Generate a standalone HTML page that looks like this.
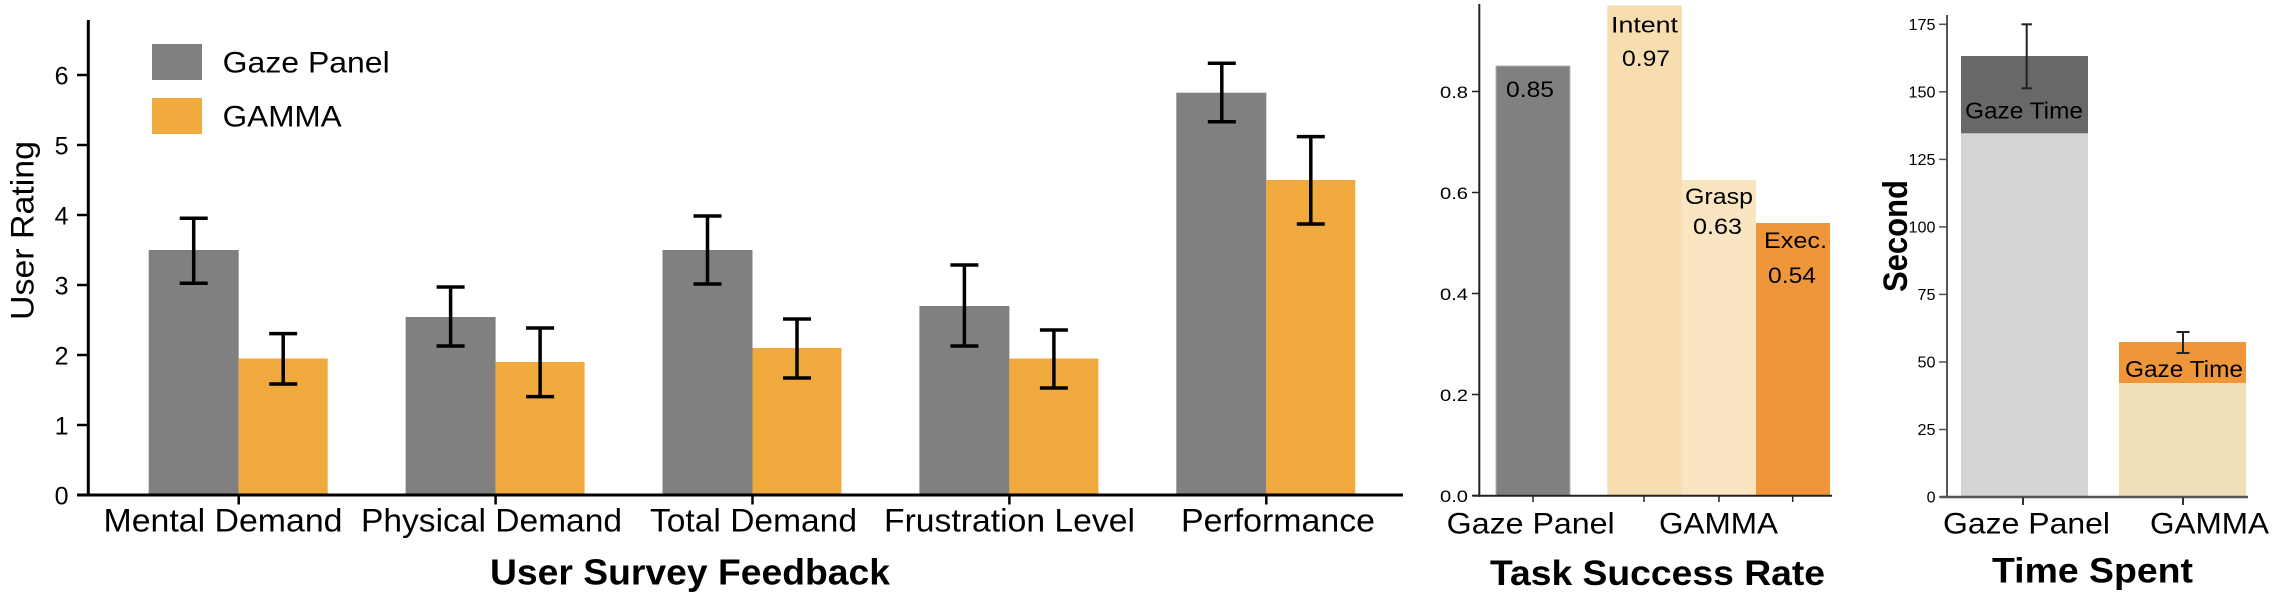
<!DOCTYPE html>
<html>
<head>
<meta charset="utf-8">
<style>
  html, body { margin: 0; padding: 0; background: #ffffff; }
  body { width: 2276px; height: 592px; overflow: hidden; }
  svg { display: block; }
  text { font-family: "Liberation Sans", "DejaVu Sans", sans-serif; fill: #000; }
</style>
</head>
<body>
<svg width="2276" height="592" viewBox="0 0 2276 592" xmlns="http://www.w3.org/2000/svg">
  <rect x="0" y="0" width="2276" height="592" fill="#ffffff"/>

  <!-- ================= PANEL 1 : User Survey Feedback ================= -->
  <!-- bars -->
  <!-- Mental Demand tick 238.7 -->
  <rect x="148.7" y="250" width="90" height="245" fill="#808080"/>
  <rect x="238.7" y="358.5" width="89" height="136.5" fill="#F0A93C"/>
  <!-- Physical Demand tick 495.6 -->
  <rect x="405.6" y="317" width="90" height="178" fill="#808080"/>
  <rect x="495.6" y="362" width="89" height="133" fill="#F0A93C"/>
  <!-- Total Demand tick 752.5 -->
  <rect x="662.5" y="250" width="90" height="245" fill="#808080"/>
  <rect x="752.5" y="348" width="89" height="147" fill="#F0A93C"/>
  <!-- Frustration Level tick 1009.4 -->
  <rect x="919.4" y="306" width="90" height="189" fill="#808080"/>
  <rect x="1009.4" y="358.5" width="89" height="136.5" fill="#F0A93C"/>
  <!-- Performance tick 1266.3 -->
  <rect x="1176.3" y="92.7" width="90" height="402.3" fill="#808080"/>
  <rect x="1266.3" y="180" width="89" height="315" fill="#F0A93C"/>

  <!-- error bars -->
  <g stroke="#000" stroke-width="3.5" fill="none">
    <!-- Mental -->
    <line x1="193.7" y1="218.3" x2="193.7" y2="283.3"/>
    <line x1="179.7" y1="218.3" x2="207.7" y2="218.3"/>
    <line x1="179.7" y1="283.3" x2="207.7" y2="283.3"/>
    <line x1="283.2" y1="333.6" x2="283.2" y2="384"/>
    <line x1="269.2" y1="333.6" x2="297.2" y2="333.6"/>
    <line x1="269.2" y1="384" x2="297.2" y2="384"/>
    <!-- Physical -->
    <line x1="450.6" y1="287" x2="450.6" y2="346"/>
    <line x1="436.6" y1="287" x2="464.6" y2="287"/>
    <line x1="436.6" y1="346" x2="464.6" y2="346"/>
    <line x1="540.1" y1="328" x2="540.1" y2="396.6"/>
    <line x1="526.1" y1="328" x2="554.1" y2="328"/>
    <line x1="526.1" y1="396.6" x2="554.1" y2="396.6"/>
    <!-- Total -->
    <line x1="707.5" y1="216" x2="707.5" y2="284"/>
    <line x1="693.5" y1="216" x2="721.5" y2="216"/>
    <line x1="693.5" y1="284" x2="721.5" y2="284"/>
    <line x1="797" y1="319" x2="797" y2="378"/>
    <line x1="783" y1="319" x2="811" y2="319"/>
    <line x1="783" y1="378" x2="811" y2="378"/>
    <!-- Frustration -->
    <line x1="964.4" y1="265" x2="964.4" y2="346"/>
    <line x1="950.4" y1="265" x2="978.4" y2="265"/>
    <line x1="950.4" y1="346" x2="978.4" y2="346"/>
    <line x1="1053.9" y1="330" x2="1053.9" y2="388"/>
    <line x1="1039.9" y1="330" x2="1067.9" y2="330"/>
    <line x1="1039.9" y1="388" x2="1067.9" y2="388"/>
    <!-- Performance -->
    <line x1="1221.8" y1="63.3" x2="1221.8" y2="121.7"/>
    <line x1="1207.8" y1="63.3" x2="1235.8" y2="63.3"/>
    <line x1="1207.8" y1="121.7" x2="1235.8" y2="121.7"/>
    <line x1="1310.8" y1="136.6" x2="1310.8" y2="224"/>
    <line x1="1296.8" y1="136.6" x2="1324.8" y2="136.6"/>
    <line x1="1296.8" y1="224" x2="1324.8" y2="224"/>
  </g>

  <!-- axes -->
  <g stroke="#000" fill="none">
    <line x1="88.3" y1="20" x2="88.3" y2="496.5" stroke-width="3"/>
    <line x1="77" y1="495" x2="1403" y2="495" stroke-width="3"/>
    <g stroke-width="2.5">
      <line x1="77" y1="495" x2="88" y2="495"/>
      <line x1="77" y1="425" x2="88" y2="425"/>
      <line x1="77" y1="355" x2="88" y2="355"/>
      <line x1="77" y1="285" x2="88" y2="285"/>
      <line x1="77" y1="215" x2="88" y2="215"/>
      <line x1="77" y1="145" x2="88" y2="145"/>
      <line x1="77" y1="75" x2="88" y2="75"/>
      <line x1="238.7" y1="495" x2="238.7" y2="504.5"/>
      <line x1="495.6" y1="495" x2="495.6" y2="504.5"/>
      <line x1="752.5" y1="495" x2="752.5" y2="504.5"/>
      <line x1="1009.4" y1="495" x2="1009.4" y2="504.5"/>
      <line x1="1266.3" y1="495" x2="1266.3" y2="504.5"/>
    </g>
  </g>

  <!-- y tick labels -->
  <g font-size="25" text-anchor="end">
    <text x="68.5" y="504.5">0</text>
    <text x="68.5" y="434.5">1</text>
    <text x="68.5" y="364.5">2</text>
    <text x="68.5" y="294.5">3</text>
    <text x="68.5" y="224.5">4</text>
    <text x="68.5" y="154.5">5</text>
    <text x="68.5" y="84.5">6</text>
  </g>

  <!-- y label -->
  <text font-size="32" text-anchor="middle" transform="translate(33.5,230.5) rotate(-90)" textLength="179" lengthAdjust="spacingAndGlyphs">User Rating</text>

  <!-- x tick labels -->
  <g font-size="32">
    <text x="103.5" y="531.5" textLength="239" lengthAdjust="spacingAndGlyphs">Mental Demand</text>
    <text x="361" y="531.5" textLength="261" lengthAdjust="spacingAndGlyphs">Physical Demand</text>
    <text x="650" y="531.5" textLength="207" lengthAdjust="spacingAndGlyphs">Total Demand</text>
    <text x="884" y="531.5" textLength="251" lengthAdjust="spacingAndGlyphs">Frustration Level</text>
    <text x="1181" y="531.5" textLength="194" lengthAdjust="spacingAndGlyphs">Performance</text>
  </g>
  <text x="490" y="584.5" font-size="36" font-weight="bold" textLength="400" lengthAdjust="spacingAndGlyphs">User Survey Feedback</text>

  <!-- legend -->
  <rect x="152" y="44" width="50" height="36" fill="#808080"/>
  <rect x="152" y="98" width="50" height="36" fill="#F0A93C"/>
  <text x="222.7" y="72.7" font-size="30" textLength="167" lengthAdjust="spacingAndGlyphs">Gaze Panel</text>
  <text x="222.7" y="126.7" font-size="30" textLength="119" lengthAdjust="spacingAndGlyphs">GAMMA</text>

  <!-- ================= PANEL 2 : Task Success Rate ================= -->
  <rect x="1496" y="66" width="74" height="429.5" fill="#808080" stroke="#b4b4b4" stroke-width="1"/>
  <rect x="1607.3" y="5.5" width="74.7" height="490" fill="#F8DDB0"/>
  <rect x="1682" y="180" width="74" height="315.5" fill="#FAE5C3"/>
  <rect x="1756" y="223" width="74" height="272.5" fill="#F0963A"/>

  <g stroke="#222" fill="none">
    <line x1="1479.3" y1="4" x2="1479.3" y2="496.7" stroke-width="2"/>
    <line x1="1472.5" y1="495.7" x2="1832" y2="495.7" stroke-width="2"/>
    <g stroke-width="1.5">
      <line x1="1472" y1="495.5" x2="1479" y2="495.5"/>
      <line x1="1472" y1="394.5" x2="1479" y2="394.5"/>
      <line x1="1472" y1="293.5" x2="1479" y2="293.5"/>
      <line x1="1472" y1="192.5" x2="1479" y2="192.5"/>
      <line x1="1472" y1="91.5" x2="1479" y2="91.5"/>
      <line x1="1533" y1="496" x2="1533" y2="502"/>
      <line x1="1644" y1="496" x2="1644" y2="502"/>
      <line x1="1719" y1="496" x2="1719" y2="502"/>
      <line x1="1792.7" y1="496" x2="1792.7" y2="502"/>
    </g>
  </g>

  <g font-size="17" fill="#333" text-anchor="end">
    <text x="1468" y="501.8" textLength="28" lengthAdjust="spacingAndGlyphs" fill="#333">0.0</text>
    <text x="1468" y="400.8" textLength="28" lengthAdjust="spacingAndGlyphs" fill="#333">0.2</text>
    <text x="1468" y="299.8" textLength="28" lengthAdjust="spacingAndGlyphs" fill="#333">0.4</text>
    <text x="1468" y="198.8" textLength="28" lengthAdjust="spacingAndGlyphs" fill="#333">0.6</text>
    <text x="1468" y="97.8" textLength="28" lengthAdjust="spacingAndGlyphs" fill="#333">0.8</text>
  </g>

  <g font-size="22">
    <text x="1506" y="97" textLength="48" lengthAdjust="spacingAndGlyphs">0.85</text>
    <text x="1611" y="32.3" textLength="67" lengthAdjust="spacingAndGlyphs">Intent</text>
    <text x="1622" y="66" textLength="48" lengthAdjust="spacingAndGlyphs">0.97</text>
    <text x="1685" y="204" textLength="68" lengthAdjust="spacingAndGlyphs">Grasp</text>
    <text x="1693" y="234" textLength="49" lengthAdjust="spacingAndGlyphs">0.63</text>
    <text x="1764" y="248" textLength="63" lengthAdjust="spacingAndGlyphs">Exec.</text>
    <text x="1768" y="283" textLength="48" lengthAdjust="spacingAndGlyphs">0.54</text>
  </g>

  <text x="1446.7" y="533.5" font-size="30" textLength="168" lengthAdjust="spacingAndGlyphs">Gaze Panel</text>
  <text x="1659" y="533.5" font-size="30" textLength="119" lengthAdjust="spacingAndGlyphs">GAMMA</text>
  <text x="1490" y="585" font-size="35" font-weight="bold" textLength="335" lengthAdjust="spacingAndGlyphs">Task Success Rate</text>

  <!-- ================= PANEL 3 : Time Spent ================= -->
  <rect x="1961" y="133.3" width="127" height="363.7" fill="#D4D4D4"/>
  <rect x="1961" y="56" width="127" height="77.3" fill="#686868"/>
  <rect x="2119" y="383" width="127" height="114" fill="#F1DFB9"/>
  <rect x="2119" y="342" width="127" height="41" fill="#F0963A"/>

  <g stroke="#222" stroke-width="2" fill="none">
    <line x1="2026.7" y1="24.3" x2="2026.7" y2="88.3"/>
    <line x1="2021.5" y1="24.3" x2="2031.9" y2="24.3"/>
    <line x1="2021.5" y1="88.3" x2="2031.9" y2="88.3"/>
    <line x1="2183" y1="332" x2="2183" y2="353"/>
    <line x1="2176.5" y1="332" x2="2189.5" y2="332"/>
    <line x1="2176.5" y1="353" x2="2189.5" y2="353"/>
  </g>

  <g stroke="#555" fill="none">
    <line x1="1947" y1="15" x2="1947" y2="498" stroke-width="2"/>
    <line x1="1940" y1="497" x2="2248" y2="497" stroke-width="2.5"/>
    <g stroke-width="1.5">
      <line x1="1939" y1="497" x2="1947" y2="497"/>
      <line x1="1939" y1="429.5" x2="1947" y2="429.5"/>
      <line x1="1939" y1="362" x2="1947" y2="362"/>
      <line x1="1939" y1="294.4" x2="1947" y2="294.4"/>
      <line x1="1939" y1="226.9" x2="1947" y2="226.9"/>
      <line x1="1939" y1="159.4" x2="1947" y2="159.4"/>
      <line x1="1939" y1="91.8" x2="1947" y2="91.8"/>
      <line x1="1939" y1="24.3" x2="1947" y2="24.3"/>
    </g>
    <g stroke="#333" stroke-width="2">
      <line x1="2023" y1="497" x2="2023" y2="505"/>
      <line x1="2183" y1="497" x2="2183" y2="505"/>
    </g>
  </g>

  <g font-size="16" text-anchor="end">
    <text x="1935.5" y="502.5" fill="#222">0</text>
    <text x="1935.5" y="435" fill="#222" textLength="18" lengthAdjust="spacingAndGlyphs">25</text>
    <text x="1935.5" y="367.5" fill="#222" textLength="18" lengthAdjust="spacingAndGlyphs">50</text>
    <text x="1935.5" y="300" fill="#222" textLength="18" lengthAdjust="spacingAndGlyphs">75</text>
    <text x="1935.5" y="232.5" fill="#222" textLength="27" lengthAdjust="spacingAndGlyphs">100</text>
    <text x="1935.5" y="165" fill="#222" textLength="27" lengthAdjust="spacingAndGlyphs">125</text>
    <text x="1935.5" y="97.3" fill="#222" textLength="27" lengthAdjust="spacingAndGlyphs">150</text>
    <text x="1935.5" y="29.8" fill="#222" textLength="27" lengthAdjust="spacingAndGlyphs">175</text>
  </g>

  <g font-size="23">
    <text x="1965" y="118.3" fill="#111" textLength="118" lengthAdjust="spacingAndGlyphs">Gaze Time</text>
    <text x="2125" y="377" fill="#111" textLength="118" lengthAdjust="spacingAndGlyphs">Gaze Time</text>
  </g>

  <text font-size="34" font-weight="bold" text-anchor="middle" transform="translate(1907,236) rotate(-90)" textLength="112" lengthAdjust="spacingAndGlyphs">Second</text>

  <text x="1943" y="533.3" font-size="30" textLength="167" lengthAdjust="spacingAndGlyphs">Gaze Panel</text>
  <text x="2150" y="533.3" font-size="30" textLength="119" lengthAdjust="spacingAndGlyphs">GAMMA</text>
  <text x="1992" y="582.5" font-size="35" font-weight="bold" textLength="201" lengthAdjust="spacingAndGlyphs">Time Spent</text>
</svg>
</body>
</html>
